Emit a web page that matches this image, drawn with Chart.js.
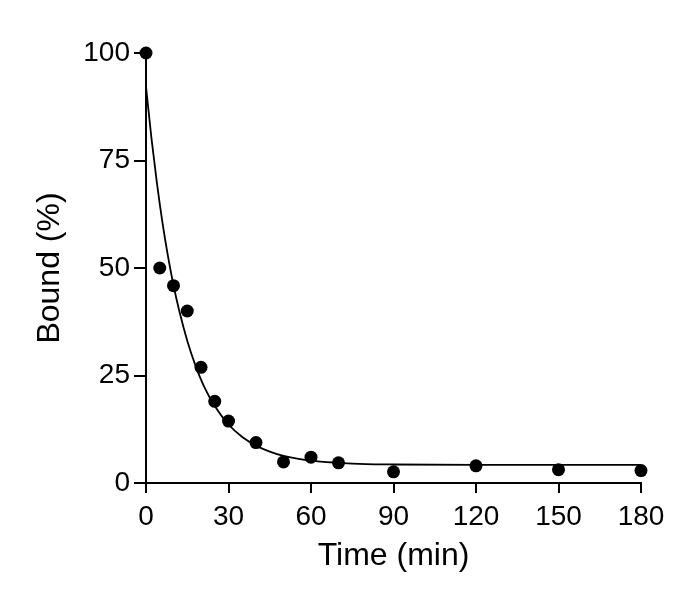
<!DOCTYPE html>
<html>
<head>
<meta charset="utf-8">
<script src="https://cdn.jsdelivr.net/npm/chart.js@4"></script>
<style>
    html, body { margin: 0; padding: 0; background: #fff; }
    #wrap { width: 685px; height: 590px; }
</style>
</head>
<body>
<div id="wrap"><canvas id="grafico" width="685" height="590"></canvas></div>
<script>
// measured points
const tiempos = [0, 5, 10, 15, 20, 25, 30, 40, 50, 60, 70, 90, 120, 150, 180]
const unido = [100, 50, 45.9, 40, 26.9, 19, 14.4, 9.4, 4.9, 6, 4.7, 2.6, 4, 3.1, 2.9]

// fitted curve
const curvaT = [0, 2, 4, 6, 8, 10, 12, 15, 18, 21, 25, 30, 35, 40, 45, 50, 60, 70, 80, 90, 120, 150, 180]
const curvaY = [92.2, 80.1, 69.6, 60.5, 52.7, 46, 40.3, 33.1, 27.3, 22.6, 17.9, 13.6, 10.7, 8.7, 7.3, 6.3, 5.2, 4.7, 4.4, 4.3, 4.2, 4.2, 4.2]

const ticksX = [0, 30, 60, 90, 120, 150, 180]
const ticksY = [0, 25, 50, 75, 100]

const fuente = "'Liberation Sans', Arial, Helvetica, sans-serif"

const ctx = document.getElementById('grafico').getContext('2d')

new Chart(ctx, {
    type: 'scatter',
    data: {
        datasets: [{
            label: 'Ajuste',
            data: curvaT.map((t, i) => ({ x: t, y: curvaY[i] })),
            showLine: true,
            borderColor: '#000',
            borderWidth: 1.8,
            pointRadius: 0,
            cubicInterpolationMode: 'monotone',
            clip: false,
            order: 2
        }, {
            label: 'Bound',
            data: tiempos.map((t, i) => ({ x: t, y: unido[i] })),
            backgroundColor: '#000',
            borderColor: '#000',
            pointRadius: 6.5,
            borderWidth: 0,
            clip: false,
            order: 1
        }]
    },
    options: {
        responsive: false,
        animation: false,
        layout: { padding: { left: 0, right: 44, top: 53, bottom: 0 } },
        plugins: {
            legend: { display: false },
            tooltip: { enabled: false }
        },
        scales: {
            x: {
                type: 'linear',
                min: 0,
                max: 180,
                afterBuildTicks: (s) => { s.ticks = ticksX.map(v => ({ value: v })) },
                afterFit: (s) => { s.height = 107 },
                grid: { drawOnChartArea: false, drawTicks: true, tickLength: 10, color: '#000', lineWidth: 2 },
                border: { color: '#000', width: 2 },
                ticks: { color: '#000', padding: 7, maxRotation: 0, font: { family: fuente, size: 28 } },
                title: { display: true, text: 'Time (min)', color: '#000', padding: { top: 0, bottom: 15 }, font: { family: fuente, size: 32 } }
            },
            y: {
                type: 'linear',
                min: 0,
                max: 100,
                afterBuildTicks: (s) => { s.ticks = ticksY.map(v => ({ value: v })) },
                afterFit: (s) => { s.width = 146 },
                grid: { drawOnChartArea: false, drawTicks: true, tickLength: 12, color: '#000', lineWidth: 2 },
                border: { color: '#000', width: 2 },
                ticks: { color: '#000', padding: 4, font: { family: fuente, size: 28 } },
                title: { display: true, text: 'Bound (%)', color: '#000', padding: { top: 31, bottom: 0 }, font: { family: fuente, size: 32 } }
            }
        }
    }
})
</script>
</body>
</html>
